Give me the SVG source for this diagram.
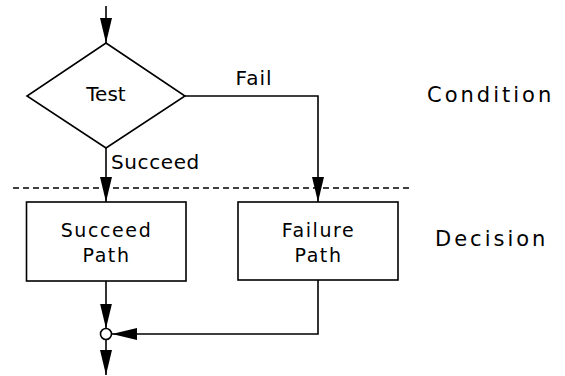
<svg xmlns="http://www.w3.org/2000/svg" width="565" height="376" viewBox="0 0 565 376">
  <defs>
    <marker id="arrow" markerUnits="userSpaceOnUse" viewBox="0 -6 25 12" markerWidth="25" markerHeight="12" refX="25" refY="0" orient="auto">
      <path d="M0,-6 L25,0 L0,6 z" fill="#000"/>
    </marker>
    <style>
      .shape { fill: #fff; stroke: #000; stroke-width: 1.6; }
      .line { fill: none; stroke: #000; stroke-width: 1.6; }
      .flow { fill: none; stroke: #000; stroke-width: 1.6; marker-end: url(#arrow); }
      .label { font-family: "DejaVu Sans", sans-serif; fill: #000; }
      .node { font-size: 19px; letter-spacing: 1.6px; text-anchor: middle; }
      .tier { font-size: 21px; letter-spacing: 3px; }
    </style>
  </defs>

  <!-- tier separator -->
  <line class="line" x1="13" y1="188" x2="410" y2="188" stroke-dasharray="6 4"/>

  <g id="connectors">
    <line class="flow" x1="106" y1="6" x2="106" y2="43"/>
    <line class="flow" x1="106" y1="148" x2="106" y2="202"/>
    <polyline class="flow" points="185,96 318,96 318,202"/>
    <line class="flow" x1="106" y1="281" x2="106" y2="328.5"/>
    <polyline class="flow" points="318,280 318,334 112,334"/>
    <line class="flow" x1="106" y1="339.5" x2="106" y2="375"/>
    <text class="label" x="254" y="85" font-size="20" letter-spacing="1" text-anchor="middle">Fail</text>
    <text class="label" x="111" y="169" font-size="20" letter-spacing="0.6">Succeed</text>
  </g>

  <g id="test">
    <polygon class="shape" points="106,43 185,96 106,148 27,96"/>
    <text class="label" x="106" y="101" font-size="20" text-anchor="middle">Test</text>
  </g>

  <g id="succeed-path">
    <rect class="shape" x="26.5" y="202" width="159.5" height="79"/>
    <text class="label node" x="106.5" y="237">Succeed</text>
    <text class="label node" x="106.5" y="262">Path</text>
  </g>

  <g id="failure-path">
    <rect class="shape" x="238" y="202" width="160" height="78"/>
    <text class="label node" x="318.5" y="237">Failure</text>
    <text class="label node" x="318.5" y="262">Path</text>
  </g>

  <g id="merge">
    <circle class="shape" cx="106" cy="334" r="5.5"/>
  </g>

  <g id="tiers">
    <text class="label tier" x="427" y="102">Condition</text>
    <text class="label tier" x="435" y="246">Decision</text>
  </g>
</svg>
